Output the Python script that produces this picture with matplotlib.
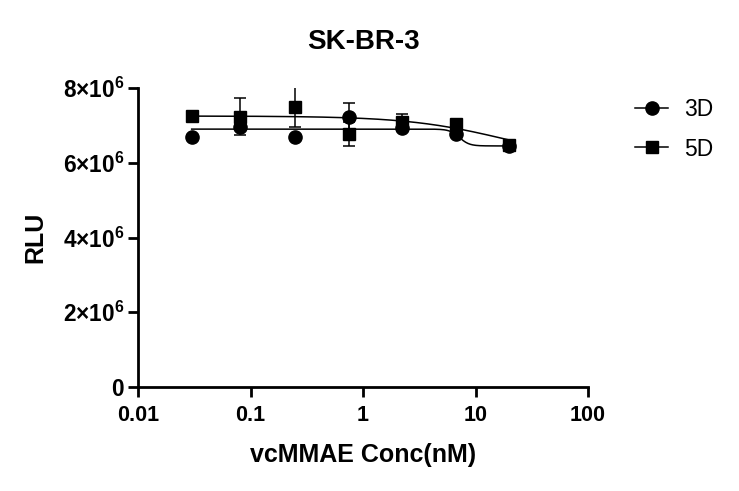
import numpy as np
import matplotlib
matplotlib.use("Agg")
import matplotlib.pyplot as plt
from matplotlib.lines import Line2D

plt.rcParams['font.family'] = ['Liberation Sans', 'DejaVu Sans']
plt.rcParams['mathtext.fontset'] = 'custom'
plt.rcParams['mathtext.rm'] = 'Liberation Sans:bold'
plt.rcParams['mathtext.it'] = 'Liberation Sans:bold'
plt.rcParams['mathtext.bf'] = 'Liberation Sans:bold'

# data
conc = [0.03, 0.08, 0.25, 0.75, 2.2, 6.7, 20]
d3_mean = [6.70e6, 6.95e6, 6.70e6, 7.22e6, 6.93e6, 6.76e6, 6.45e6]
d3_err = [0.03e6, 0.05e6, 0.0, 0.38e6, 0.05e6, 0.05e6, 0.03e6]
d5_mean = [7.25e6, 7.23e6, 7.50e6, 6.78e6, 7.08e6, 7.04e6, 6.48e6]
d5_err = [0.03e6, 0.50e6, 0.55e6, 0.32e6, 0.22e6, 0.05e6, 0.03e6]
# 4PL fit parameters: bottom, top, EC50, hill
fit3 = dict(bottom=6.45e6, top=6.90e6, ec50=7.2, hill=10.0)
fit5 = dict(bottom=6.03e6, top=7.25e6, ec50=18.0, hill=1.0)

yticks = [0, 2e6, 4e6, 6e6, 8e6]
ytick_labels = ['0', r'$2{\times}10^{6}$', r'$4{\times}10^{6}$', r'$6{\times}10^{6}$', r'$8{\times}10^{6}$']
xticks = [0.01, 0.1, 1, 10, 100]
xtick_labels = ['0.01', '0.1', '1', '10', '100']


def fourpl(x, bottom, top, ec50, hill):
    return bottom + (top - bottom) / (1 + (x / ec50) ** hill)


fig = plt.figure(figsize=(7.39, 4.91), dpi=100)
ax = fig.add_axes([138 / 739, 1 - 387 / 491, 450 / 739, 299 / 491])

xs = np.logspace(np.log10(conc[0]), np.log10(conc[-1]), 400)
ax.plot(xs, fourpl(xs, **fit3), color='black', lw=1.1, zorder=2)
ax.plot(xs, fourpl(xs, **fit5), color='black', lw=1.1, zorder=2)

ax.errorbar(conc, d3_mean, yerr=d3_err, fmt='o', color='black', ms=9.5,
            capsize=4.5, elinewidth=1.1, capthick=1.1, zorder=3)
ax.errorbar(conc, d5_mean, yerr=d5_err, fmt='s', color='black', ms=9,
            capsize=4.5, elinewidth=1.1, capthick=1.1, zorder=3)

ax.set_xscale('log')
ax.set_xlim(0.01, 100)
ax.set_ylim(0, 8e6)
ax.set_xticks(xticks)
ax.set_xticklabels(xtick_labels)
ax.set_yticks(yticks)
ax.set_yticklabels(ytick_labels)
ax.xaxis.set_minor_locator(matplotlib.ticker.NullLocator())

for s in ['top', 'right']:
    ax.spines[s].set_visible(False)
for s in ['left', 'bottom']:
    ax.spines[s].set_linewidth(2.0)
ax.tick_params(axis='both', which='major', length=7, width=2.0, direction='out', pad=4)
ax.tick_params(axis='x', labelsize=15.5, pad=6)
ax.tick_params(axis='y', labelsize=16.3, pad=3)
for lab in ax.get_xticklabels() + ax.get_yticklabels():
    lab.set_fontweight('bold')

ax.set_xlabel('vcMMAE Conc(nM)', fontsize=18, fontweight='bold', labelpad=12)
ax.set_ylabel('RLU', fontsize=18, fontweight='bold', labelpad=11)
ax.set_title('SK-BR-3', fontsize=20, fontweight='bold', pad=28)

handles = [Line2D([], [], color='black', marker='o', ms=9.5, lw=1.1),
           Line2D([], [], color='black', marker='s', ms=9, lw=1.1)]
fig.legend(handles, ['3D', '5D'], loc='upper left', bbox_to_anchor=(635 / 739, 1 - 98 / 491),
           frameon=False, fontsize=16.5, handlelength=1.45, handletextpad=0.68,
           labelspacing=0.72, borderpad=0, borderaxespad=0)

fig.savefig('out.png', dpi=100)
